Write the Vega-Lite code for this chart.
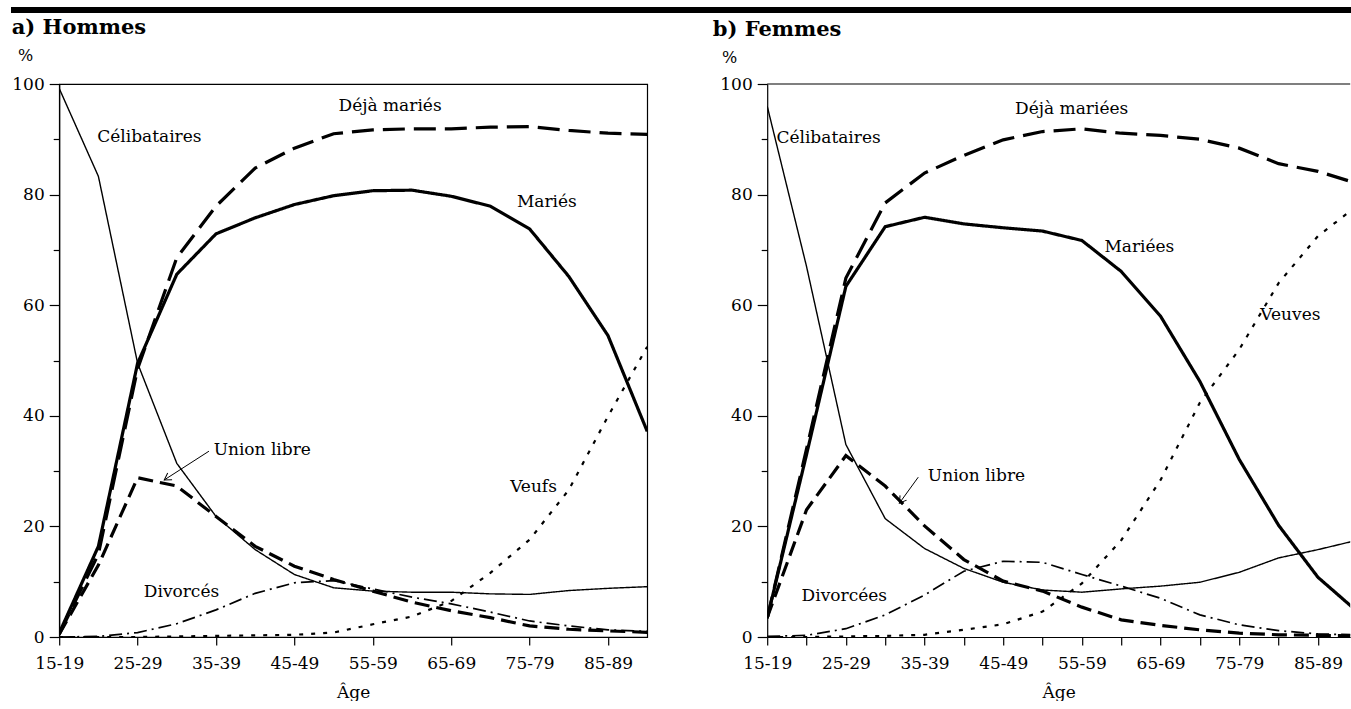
{
  "$schema": "https://vega.github.io/schema/vega-lite/v6.json",
  "padding": {"left": 11, "top": 7, "right": 0, "bottom": 0},
  "background": "white",
  "config": {
    "font": "DejaVu Serif",
    "axis": {"labelFont": "DejaVu Serif", "labelFontSize": 17, "labelColor": "black", "titleFont": "DejaVu Serif", "titleFontSize": 17, "titleFontWeight": "normal", "titleColor": "black", "domainColor": "black", "tickColor": "black", "domainWidth": 1.2, "tickWidth": 1.2, "grid": false},
    "title": {"font": "DejaVu Serif", "fontSize": 21, "fontWeight": "bold", "color": "black", "anchor": "start", "frame": "bounds", "baseline": "alphabetic", "offset": 9},
    "text": {"font": "DejaVu Serif", "fontSize": 17, "color": "black"}
  },
  "datasets": {
    "hommes": [
      {"age": 15, "celib": 99.2, "maries": 0.7, "deja": 0.5, "union": 0.5, "div": 0, "veuf": 0},
      {"age": 20, "celib": 83.3, "maries": 16.4, "deja": 15.0, "union": 13.0, "div": 0.1, "veuf": 0},
      {"age": 25, "celib": 49.5, "maries": 49.5, "deja": 48.5, "union": 28.8, "div": 0.8, "veuf": 0},
      {"age": 30, "celib": 31.4, "maries": 65.6, "deja": 68.6, "union": 27.3, "div": 2.4, "veuf": 0.1},
      {"age": 35, "celib": 21.8, "maries": 72.9, "deja": 77.9, "union": 21.8, "div": 4.9, "veuf": 0.2},
      {"age": 40, "celib": 15.8, "maries": 75.8, "deja": 84.8, "union": 16.4, "div": 7.9, "veuf": 0.3},
      {"age": 45, "celib": 11.3, "maries": 78.2, "deja": 88.4, "union": 12.8, "div": 9.8, "veuf": 0.4},
      {"age": 50, "celib": 8.9, "maries": 79.8, "deja": 91.0, "union": 10.4, "div": 10.2, "veuf": 0.8},
      {"age": 55, "celib": 8.3, "maries": 80.7, "deja": 91.7, "union": 8.3, "div": 8.7, "veuf": 2.3},
      {"age": 60, "celib": 8.1, "maries": 80.8, "deja": 91.9, "union": 6.3, "div": 7.2, "veuf": 3.7},
      {"age": 65, "celib": 8.1, "maries": 79.7, "deja": 91.9, "union": 4.75, "div": 6.0, "veuf": 6.5},
      {"age": 70, "celib": 7.8, "maries": 77.9, "deja": 92.2, "union": 3.5, "div": 4.5, "veuf": 11.6},
      {"age": 75, "celib": 7.7, "maries": 73.8, "deja": 92.3, "union": 2.0, "div": 2.9, "veuf": 17.6},
      {"age": 80, "celib": 8.4, "maries": 65.2, "deja": 91.6, "union": 1.4, "div": 2.0, "veuf": 26.6},
      {"age": 85, "celib": 8.8, "maries": 54.5, "deja": 91.1, "union": 1.1, "div": 1.3, "veuf": 39.9},
      {"age": 90, "celib": 9.1, "maries": 37.2, "deja": 90.9, "union": 0.85, "div": 1.0, "veuf": 52.5}
    ],
    "femmes": [
      {"age": 15, "celib": 96.0, "maries": 3.4, "deja": 3.4, "union": 3.5, "div": 0.1, "veuf": 0},
      {"age": 20, "celib": 67.0, "maries": 33.0, "deja": 34.0, "union": 23.0, "div": 0.3, "veuf": 0},
      {"age": 25, "celib": 34.8, "maries": 63.4, "deja": 64.9, "union": 32.8, "div": 1.5, "veuf": 0.1},
      {"age": 30, "celib": 21.4, "maries": 74.2, "deja": 78.5, "union": 27.3, "div": 4.0, "veuf": 0.2},
      {"age": 35, "celib": 16.0, "maries": 75.9, "deja": 83.9, "union": 20.1, "div": 7.6, "veuf": 0.4},
      {"age": 40, "celib": 12.4, "maries": 74.7, "deja": 87.1, "union": 14.0, "div": 11.9, "veuf": 1.3},
      {"age": 45, "celib": 9.9, "maries": 74.0, "deja": 89.9, "union": 10.1, "div": 13.7, "veuf": 2.3},
      {"age": 50, "celib": 8.5, "maries": 73.4, "deja": 91.4, "union": 8.3, "div": 13.5, "veuf": 4.6},
      {"age": 55, "celib": 8.1, "maries": 71.7, "deja": 91.9, "union": 5.4, "div": 11.3, "veuf": 9.7},
      {"age": 60, "celib": 8.7, "maries": 66.1, "deja": 91.1, "union": 3.1, "div": 9.2, "veuf": 17.5},
      {"age": 65, "celib": 9.2, "maries": 58.0, "deja": 90.7, "union": 2.1, "div": 7.0, "veuf": 28.4},
      {"age": 70, "celib": 9.9, "maries": 46.2, "deja": 90.0, "union": 1.3, "div": 4.0, "veuf": 42.4},
      {"age": 75, "celib": 11.7, "maries": 32.1, "deja": 88.4, "union": 0.7, "div": 2.2, "veuf": 52.0},
      {"age": 80, "celib": 14.3, "maries": 20.2, "deja": 85.6, "union": 0.4, "div": 1.15, "veuf": 64.0},
      {"age": 85, "celib": 15.8, "maries": 10.8, "deja": 84.2, "union": 0.3, "div": 0.55, "veuf": 72.5},
      {"age": 90, "celib": 17.5, "maries": 4.6, "deja": 82.0, "union": 0.2, "div": 0.4, "veuf": 78.0}
    ],
    "labelsH": [
      {"age": 26.5, "value": 90.4, "label": "Célibataires"},
      {"age": 57.2, "value": 96.0, "label": "Déjà mariés"},
      {"age": 77.2, "value": 78.7, "label": "Mariés"},
      {"age": 40.9, "value": 33.9, "label": "Union libre"},
      {"age": 30.6, "value": 8.1, "label": "Divorcés"},
      {"age": 75.5, "value": 27.2, "label": "Veufs"}
    ],
    "labelsF": [
      {"age": 22.8, "value": 90.2, "label": "Célibataires"},
      {"age": 53.7, "value": 95.5, "label": "Déjà mariées"},
      {"age": 62.3, "value": 70.6, "label": "Mariées"},
      {"age": 81.5, "value": 58.3, "label": "Veuves"},
      {"age": 41.6, "value": 29.2, "label": "Union libre"},
      {"age": 24.8, "value": 7.4, "label": "Divorcées"}
    ],
    "arrowH": [{"age": 34.1, "value": 33.6, "age2": 28.4, "value2": 28.4}],
    "arrowF": [{"age": 34.2, "value": 28.9, "age2": 31.8, "value2": 24.2}]
  },
  "spacing": 3,
  "center": true,
  "vconcat": [
    {
      "width": 1388,
      "height": 6,
      "view": {"fill": "black", "stroke": null},
      "data": {"values": [{}]},
      "mark": {"type": "point", "opacity": 0},
      "encoding": {}
    },
    {
      "spacing": 64,
      "resolve": {"scale": {"x": "independent", "y": "independent", "strokeDash": "independent"}},
      "hconcat": [
        {
          "title": {"text": "a) Hommes"},
          "width": 588,
          "height": 553,
          "view": {"stroke": "black", "strokeWidth": 1.2},
          "layer": [
            {
              "data": {"name": "hommes"},
              "transform": [{"fold": ["celib", "maries", "deja", "union", "div", "veuf"], "as": ["serie", "value"]}],
              "mark": {"type": "line", "color": "black", "clip": true},
              "encoding": {
                "x": {"field": "age", "type": "quantitative", "scale": {"domain": [15, 90], "nice": false, "zero": false},
                  "axis": {"values": [15, 20, 25, 30, 35, 40, 45, 50, 55, 60, 65, 70, 75, 80, 85, 90], "labelExpr": "datum.value % 10 === 5 ? datum.value + '-' + (datum.value + 4) : ''", "tickSize": 8, "labelPadding": 10, "labelFlush": false, "labelOverlap": false, "title": "Âge", "titlePadding": 13}},
                "y": {"field": "value", "type": "quantitative", "scale": {"domain": [0, 100], "nice": false},
                  "axis": {"values": [0, 5, 10, 15, 20, 25, 30, 35, 40, 45, 50, 55, 60, 65, 70, 75, 80, 85, 90, 95, 100], "labelExpr": "datum.value % 20 === 0 ? datum.label : ''", "tickSize": {"condition": {"test": "datum.value % 20 === 0", "value": 10}, "value": 6}, "labelPadding": 5, "labelOverlap": false, "title": "%", "titleAngle": 0, "titleAlign": "center", "titleBaseline": "middle", "titleX": -34, "titleY": -29, "titleFontSize": 16}},
                "strokeDash": {"field": "serie", "type": "nominal", "scale": {"domain": ["celib", "maries", "deja", "union", "div", "veuf"], "range": [[1, 0], [1, 0], [22, 9], [15, 7], [13, 5, 2, 5], [4, 8]]}, "legend": null},
                "strokeWidth": {"condition": [{"test": "datum.serie === 'celib'", "value": 1.4}, {"test": "datum.serie === 'div'", "value": 1.7}, {"test": "datum.serie === 'veuf'", "value": 2.2}], "value": 3.2}
              }
            },
            {
              "data": {"name": "labelsH"},
              "mark": {"type": "text", "align": "center", "baseline": "middle"},
              "encoding": {
                "x": {"field": "age", "type": "quantitative"},
                "y": {"field": "value", "type": "quantitative"},
                "text": {"field": "label"}
              }
            },
            {
              "data": {"name": "arrowH"},
              "mark": {"type": "rule", "color": "black", "strokeWidth": 1},
              "encoding": {
                "x": {"field": "age", "type": "quantitative"},
                "y": {"field": "value", "type": "quantitative"},
                "x2": {"field": "age2"},
                "y2": {"field": "value2"}
              }
            },
            {
              "data": {"name": "arrowH"},
              "mark": {"type": "point", "shape": "M-1,-0.6L0,0L-1,0.6", "filled": false, "stroke": "black", "strokeWidth": 1, "size": 180, "angle": 147, "opacity": 1},
              "encoding": {
                "x": {"field": "age2", "type": "quantitative"},
                "y": {"field": "value2", "type": "quantitative"}
              }
            }
          ]
        },
        {
          "title": {"text": "b) Femmes", "dx": -7},
          "width": 583,
          "height": 553,
          "view": {"stroke": null},
          "layer": [
            {
              "data": {"name": "femmes"},
              "transform": [{"fold": ["celib", "maries", "deja", "union", "div", "veuf"], "as": ["serie", "value"]}],
              "mark": {"type": "line", "color": "black", "clip": true},
              "encoding": {
                "x": {"field": "age", "type": "quantitative", "scale": {"domain": [15, 89.1], "nice": false, "zero": false},
                  "axis": {"values": [15, 20, 25, 30, 35, 40, 45, 50, 55, 60, 65, 70, 75, 80, 85], "labelExpr": "datum.value % 10 === 5 ? datum.value + '-' + (datum.value + 4) : ''", "tickSize": 8, "labelPadding": 10, "labelFlush": false, "labelOverlap": false, "title": "Âge", "titlePadding": 13}},
                "y": {"field": "value", "type": "quantitative", "scale": {"domain": [0, 100], "nice": false},
                  "axis": {"values": [0, 5, 10, 15, 20, 25, 30, 35, 40, 45, 50, 55, 60, 65, 70, 75, 80, 85, 90, 95, 100], "labelExpr": "datum.value % 20 === 0 ? datum.label : ''", "tickSize": {"condition": {"test": "datum.value % 20 === 0", "value": 10}, "value": 6}, "labelPadding": 5, "labelOverlap": false, "title": "%", "titleAngle": 0, "titleAlign": "center", "titleBaseline": "middle", "titleX": -38, "titleY": -27, "titleFontSize": 16}},
                "strokeDash": {"field": "serie", "type": "nominal", "scale": {"domain": ["celib", "maries", "deja", "union", "div", "veuf"], "range": [[1, 0], [1, 0], [22, 9], [15, 7], [13, 5, 2, 5], [4, 8]]}, "legend": null},
                "strokeWidth": {"condition": [{"test": "datum.serie === 'celib'", "value": 1.4}, {"test": "datum.serie === 'div'", "value": 1.7}, {"test": "datum.serie === 'veuf'", "value": 2.2}], "value": 3.2}
              }
            },
            {
              "data": {"values": [{}]},
              "mark": {"type": "rule", "color": "black", "strokeWidth": 1.2},
              "encoding": {"y": {"datum": 100, "type": "quantitative"}}
            },
            {
              "data": {"name": "labelsF"},
              "mark": {"type": "text", "align": "center", "baseline": "middle"},
              "encoding": {
                "x": {"field": "age", "type": "quantitative"},
                "y": {"field": "value", "type": "quantitative"},
                "text": {"field": "label"}
              }
            },
            {
              "data": {"name": "arrowF"},
              "mark": {"type": "rule", "color": "black", "strokeWidth": 1},
              "encoding": {
                "x": {"field": "age", "type": "quantitative"},
                "y": {"field": "value", "type": "quantitative"},
                "x2": {"field": "age2"},
                "y2": {"field": "value2"}
              }
            },
            {
              "data": {"name": "arrowF"},
              "mark": {"type": "point", "shape": "M-1,-0.6L0,0L-1,0.6", "filled": false, "stroke": "black", "strokeWidth": 1, "size": 180, "angle": 126, "opacity": 1},
              "encoding": {
                "x": {"field": "age2", "type": "quantitative"},
                "y": {"field": "value2", "type": "quantitative"}
              }
            }
          ]
        }
      ]
    }
  ]
}
